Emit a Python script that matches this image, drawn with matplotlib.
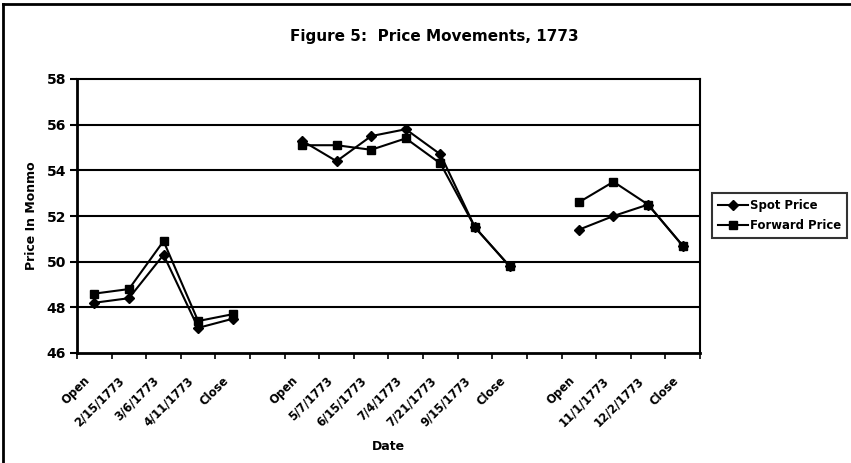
import numpy as np
import matplotlib
matplotlib.use('Agg')
import matplotlib.pyplot as plt
import matplotlib.transforms as mtransforms
from matplotlib.lines import Line2D

plt.rcParams['font.family'] = ['DejaVu Sans']
plt.rcParams['font.weight'] = 'bold'
plt.rcParams['axes.labelweight'] = 'bold'

# categories (empty strings are the gaps between the three periods)
categories = ['Open', '2/15/1773', '3/6/1773', '4/11/1773', 'Close', '',
              'Open', '5/7/1773', '6/15/1773', '7/4/1773', '7/21/1773', '9/15/1773', 'Close', '',
              'Open', '11/1/1773', '12/2/1773', 'Close']

# NaN where there is no observation
spot_price = [48.2, 48.4, 50.3, 47.1, 47.5, np.nan,
              55.3, 54.4, 55.5, 55.8, 54.7, 51.5, 49.8, np.nan,
              51.4, 52.0, 52.5, 50.7]
forward_price = [48.6, 48.8, 50.9, 47.4, 47.7, np.nan,
                 55.1, 55.1, 54.9, 55.4, 54.3, 51.5, 49.8, np.nan,
                 52.6, 53.5, 52.5, 50.7]

y_ticks = [46, 48, 50, 52, 54, 56, 58]

x = np.arange(len(categories))

fig = plt.figure(figsize=(8.51, 4.63), dpi=100)
ax = fig.add_axes([77 / 851, 1 - 353 / 463, 623 / 851, 274 / 463])

# horizontal gridlines
for v in y_ticks[1:-1]:
    ax.axhline(v, color='black', lw=1.5, zorder=1)

ax.plot(x, spot_price, color='black', lw=1.5, marker='D', markersize=5.5,
        markerfacecolor='black', markeredgecolor='black', zorder=3)
ax.plot(x, forward_price, color='black', lw=1.5, marker='s', markersize=6,
        markerfacecolor='black', markeredgecolor='black', zorder=3)

ax.set_xlim(-0.5, len(categories) - 0.5)
ax.set_ylim(46, 58)
ax.set_yticks(y_ticks)
ax.tick_params(axis='y', labelsize=10, length=5, width=1.5, direction='out', pad=3)

# tick marks between categories, labels at category centres
ax.set_xticks(np.arange(-0.5, len(categories), 1.0))
ax.set_xticklabels([])
ax.tick_params(axis='x', which='major', length=4, width=1.2, direction='out')
ax.set_xticks(x, minor=True)
ax.set_xticklabels(categories, minor=True, rotation=45, ha='right',
                   rotation_mode='anchor', fontsize=8.3)
ax.tick_params(axis='x', which='minor', length=0, pad=15)
shift = mtransforms.ScaledTranslation(-11 / 100, 0, fig.dpi_scale_trans)
for lab in ax.get_xticklabels(minor=True):
    lab.set_transform(lab.get_transform() + shift)

for s in ['left', 'bottom']:
    ax.spines[s].set_linewidth(2)
for s in ['top', 'right']:
    ax.spines[s].set_linewidth(1.5)

ax.set_ylabel('Price In Monmo', fontsize=9, labelpad=6)
fig.text(388 / 851, 1 - 446 / 463, 'Date', ha='center', va='center', fontsize=9)
fig.text(434 / 851, 1 - 37 / 463, 'Figure 5:  Price Movements, 1773',
         ha='center', va='center', fontsize=11)

handles = [Line2D([], [], color='black', lw=1.5, marker='D', markersize=5),
           Line2D([], [], color='black', lw=1.5, marker='s', markersize=6)]
leg = fig.legend(handles, ['Spot Price', 'Forward Price'], loc='upper left',
                 bbox_to_anchor=(712 / 851, 1 - 193 / 463), frameon=True,
                 fancybox=False, fontsize=8.4, handlelength=2.6, handletextpad=0.15,
                 borderpad=0.5, labelspacing=0.6, borderaxespad=0)
leg.get_frame().set_edgecolor('black')
leg.get_frame().set_linewidth(1.5)

# outer chart border (left and top visible)
fig.add_artist(Line2D([3 / 851, 3 / 851], [0, 1 - 4 / 463], color='black', lw=2,
                      transform=fig.transFigure))
fig.add_artist(Line2D([3 / 851, 1], [1 - 4 / 463, 1 - 4 / 463], color='black', lw=2,
                      transform=fig.transFigure))

fig.savefig('out.png', dpi=100)
